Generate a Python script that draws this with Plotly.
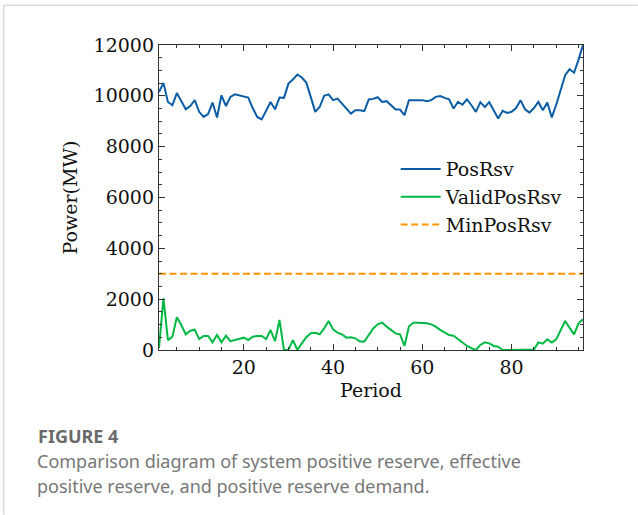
import plotly.graph_objects as go

periods = list(range(1, 97))
pos_rsv = [10150, 10510, 9760, 9630, 10110, 9760, 9470, 9600, 9830, 9370,
           9170, 9280, 9735, 9150, 10020, 9600, 9960, 10060, 10020, 9980,
           9930, 9520, 9170, 9070, 9400, 9760, 9470, 9930, 9920, 10480,
           10640, 10840, 10720, 10520, 9960, 9370, 9560, 10000, 10060, 9830,
           9890, 9700, 9500, 9300, 9430, 9430, 9400, 9860, 9880, 9945,
           9760, 9790, 9630, 9460, 9460, 9240, 9830, 9830, 9830, 9830,
           9790, 9830, 9960, 9990, 9920, 9860, 9500, 9760, 9650, 9860,
           9630, 9370, 9750, 9560, 9750, 9410, 9110, 9410, 9330, 9370,
           9520, 9830, 9470, 9340, 9520, 9760, 9430, 9735, 9150, 9650,
           10280, 10810, 11045, 10910, 11425, 12000]
valid_pos_rsv = [80, 2030, 390, 525, 1285, 980, 615, 760, 800, 430,
                 550, 550, 300, 590, 300, 560, 350, 390, 460, 485,
                 390, 525, 550, 550, 430, 785, 350, 1180, 0, 0,
                 390, 0, 260, 500, 660, 680, 620, 850, 1140, 810,
                 680, 615, 485, 500, 460, 330, 330, 590, 850, 1010,
                 1075, 920, 790, 655, 615, 160, 920, 1075, 1075, 1075,
                 1050, 1010, 920, 790, 700, 590, 560, 430, 300, 160,
                 70, 0, 200, 300, 260, 160, 130, 0, 0, 0,
                 0, 0, 0, 0, 20, 300, 250, 420, 290, 420,
                 785, 1140, 870, 615, 1050, 1205]
min_pos_rsv = [3000] * 96

x_ticks = [20, 40, 60, 80]
y_ticks = [0, 2000, 4000, 6000, 8000, 10000, 12000]
y_tick_labels = ["0", "2000", "4000", "6000", "8000", "10000", "12000"]

W, H = 638, 515
L, R, T, B = 159.3, 54.7, 44.7, 165.0
PW, PH = W - L - R, H - T - B


def px_x(px):
    return (px - L) / PW


def px_y(py):
    return (H - B - py) / PH


serif = "DejaVu Serif"

fig = go.Figure()
fig.add_trace(go.Scatter(x=periods, y=pos_rsv, mode="lines", name="PosRsv",
                         line=dict(color="#0C5DA5", width=2)))
fig.add_trace(go.Scatter(x=periods, y=valid_pos_rsv, mode="lines", name="ValidPosRsv",
                         line=dict(color="#00B945", width=2)))
fig.add_trace(go.Scatter(x=periods, y=min_pos_rsv, mode="lines", name="MinPosRsv",
                         line=dict(color="#FF9500", width=2, dash="7px,3.5px")))

axis_common = dict(
    showline=True, linecolor="#333", linewidth=1.3, mirror="allticks",
    ticks="inside", ticklen=6, tickwidth=1.1, tickcolor="#333",
    showgrid=False, zeroline=False,
    tickfont=dict(family=serif, size=19, color="#111"),
    title_font=dict(family=serif, size=19, color="#111"),
)

fig.update_xaxes(range=[1, 96], tickvals=x_ticks,
                 ticktext=[str(v) for v in x_ticks], title_text="Period",
                 title_standoff=6,
                 minor=dict(dtick=5, tick0=0, ticks="inside", ticklen=3,
                            tickwidth=1, tickcolor="#333", showgrid=False),
                 **axis_common)
fig.update_yaxes(range=[0, 12000], tickvals=y_ticks, ticktext=y_tick_labels,
                 title_text="Power(MW)",
                 title_standoff=10,
                 minor=dict(dtick=500, tick0=0, ticks="inside", ticklen=3,
                            tickwidth=1, tickcolor="#333", showgrid=False),
                 **axis_common)

fig.update_layout(
    width=W, height=H,
    margin=dict(l=L, r=R, t=T, b=B, autoexpand=False),
    paper_bgcolor="white", plot_bgcolor="white",
    showlegend=True,
    legend=dict(x=px_x(396), y=px_y(150), xanchor="left", yanchor="top",
                bgcolor="rgba(0,0,0,0)", borderwidth=0,
                font=dict(family=serif, size=19, color="#111"),
                itemwidth=40),
    annotations=[
        dict(text="<b>FIGURE 4</b>", xref="paper", yref="paper",
             x=px_x(36), y=px_y(436), xanchor="left", yanchor="middle",
             showarrow=False,
             font=dict(family="Noto Sans", size=18, color="#6a6a6a"),),
        dict(text="Comparison diagram of system positive reserve, effective",
             xref="paper", yref="paper", x=px_x(35), y=px_y(461),
             xanchor="left", yanchor="middle", showarrow=False,
             font=dict(family="Noto Sans", size=18, color="#777")),
        dict(text="positive reserve, and positive reserve demand.",
             xref="paper", yref="paper", x=px_x(35), y=px_y(486),
             xanchor="left", yanchor="middle", showarrow=False,
             font=dict(family="Noto Sans", size=18, color="#777")),
    ],
    shapes=[
        dict(type="line", xref="paper", yref="paper",
             x0=px_x(4), x1=px_x(638), y0=px_y(5), y1=px_y(5),
             line=dict(color="#d9d9d9", width=1.5)),
        dict(type="line", xref="paper", yref="paper",
             x0=px_x(4), x1=px_x(4), y0=px_y(5), y1=px_y(515),
             line=dict(color="#d9d9d9", width=1.5)),
    ],
)

fig.write_html("out.html", config={"displayModeBar": False})
